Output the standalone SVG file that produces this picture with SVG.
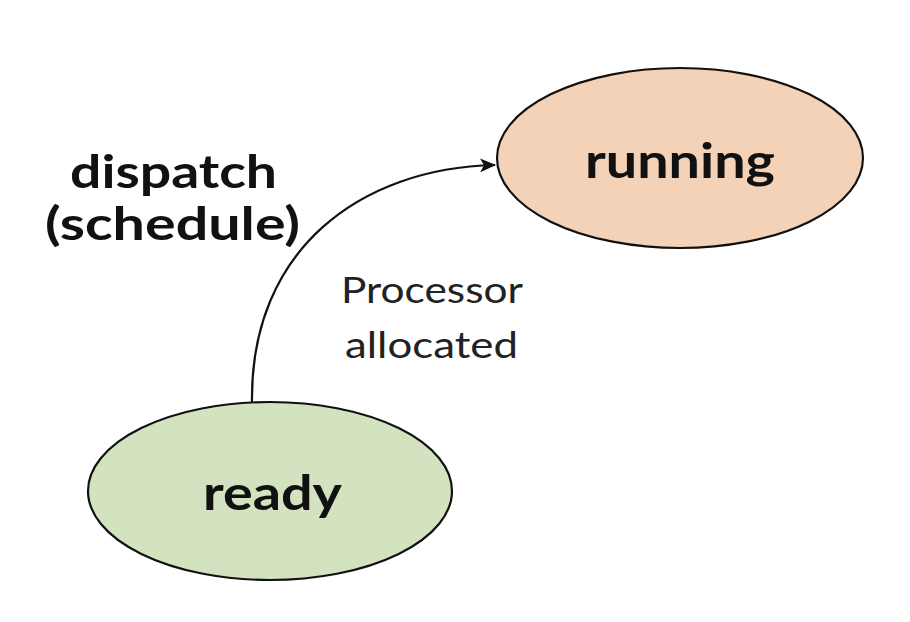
<svg xmlns="http://www.w3.org/2000/svg" width="910" height="622" viewBox="0 0 910 622">
<style>
.node{stroke:#111;stroke-width:2.2}
.bold{font-family:Lato,"Open Sans","Liberation Sans",sans-serif;font-weight:bold;fill:#111}
.reg{font-family:Lato,"Open Sans","Liberation Sans",sans-serif;fill:#222}
.conn{fill:none;stroke:#111;stroke-width:2.2}
</style>
<defs>
<marker id="arr" markerWidth="16" markerHeight="14" refX="15" refY="7" orient="auto" markerUnits="userSpaceOnUse">
<path d="M0,0 L16,7 L0,14 L4,7 Z" fill="#111"/>
</marker>
</defs>
<rect width="910" height="622" fill="#fff"/>
<g id="connectors">
<path class="conn" d="M252,402 C250,250 360,168 495,165" marker-end="url(#arr)"/>
<text class="bold" x="70" y="188" font-size="45" textLength="207" lengthAdjust="spacingAndGlyphs">dispatch</text>
<text class="bold" x="45" y="240" font-size="45" textLength="255" lengthAdjust="spacingAndGlyphs">(schedule)</text>
<text class="reg" x="341" y="303" font-size="37" textLength="182" lengthAdjust="spacingAndGlyphs">Processor</text>
<text class="reg" x="345" y="358" font-size="37" textLength="173" lengthAdjust="spacingAndGlyphs">allocated</text>
</g>
<g id="running">
<ellipse class="node" cx="680" cy="158" rx="183" ry="90" fill="#f3d2b8"/>
<text class="bold" x="585" y="178" font-size="47" textLength="190" lengthAdjust="spacingAndGlyphs">running</text>
</g>
<g id="ready">
<ellipse class="node" cx="270" cy="491" rx="182" ry="89" fill="#d3e3c0"/>
<text class="bold" x="203" y="510" font-size="47" textLength="139" lengthAdjust="spacingAndGlyphs">ready</text>
</g>
</svg>
